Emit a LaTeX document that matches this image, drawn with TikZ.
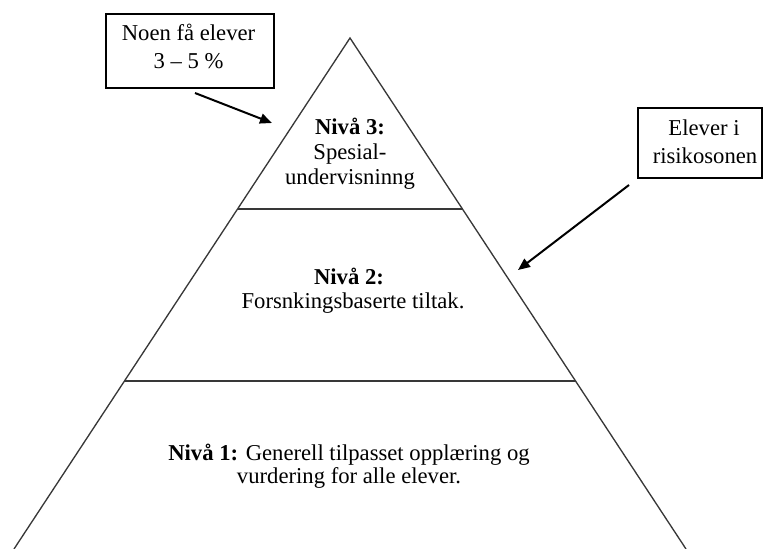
\documentclass[tikz,border=0pt]{standalone}
\usepackage{fontspec}
\setmainfont{Liberation Serif}
\usetikzlibrary{calc,arrows.meta}

\tikzset{
  edge/.style={draw=black!78, line width=1pt},
  calloutbox/.style={draw=black, line width=1.5pt, rectangle, inner sep=0pt},
  pointer/.style={draw=black, line width=1.5pt, -{Triangle[length=9pt,width=7.5pt]}},
  txt/.style={anchor=base, inner sep=0pt, font=\fontsize{17}{20}\selectfont}
}

\begin{document}
\begin{tikzpicture}[x=0.75pt,y=-0.75pt]
  \useasboundingbox (0,0) rectangle (763,549);

  % pyramid outline
  \coordinate (apex) at (350,38);
  \coordinate (bl) at (14,549);
  \coordinate (br) at (686,549);
  \draw[edge] (bl) -- (apex) -- (br);

  % level dividers
  \coordinate (d1l) at ($(apex)!0.33464!(bl)$);
  \coordinate (d1r) at ($(apex)!0.33464!(br)$);
  \coordinate (d2l) at ($(apex)!0.67123!(bl)$);
  \coordinate (d2r) at ($(apex)!0.67123!(br)$);
  \draw[edge] (d1l) -- (d1r);
  \draw[edge] (d2l) -- (d2r);

  % level 3
  \node[txt] (n3a) at (350,135) {\textbf{Nivå 3:}};
  \node[txt] (n3b) at (350,160) {Spesial-};
  \node[txt] (n3c) at (350,184) {undervisninng};

  % level 2
  \node[txt] (n2a) at (349,284) {\textbf{Nivå 2:}};
  \node[txt] (n2b) at (353,308) {Forsnkingsbaserte tiltak.};

  % level 1
  \node[txt] (n1a) at (349,460) {\textbf{Nivå 1:} Generell tilpasset opplæring og};
  \node[txt] (n1b) at (349,483) {vurdering for alle elever.};

  % callout: few pupils
  \node[calloutbox, minimum width=126pt, minimum height=56pt] (box1) at (189.5,51) {};
  \node[txt] (b1a) at (188.5,40.7) {Noen få elever};
  \node[txt] (b1b) at (188.5,68.3) {3 – 5 \%};

  % callout: pupils at risk
  \node[calloutbox, minimum width=93pt, minimum height=52.5pt] (box2) at (700,143) {};
  \node[txt] (b2a) at (704,136) {Elever i};
  \node[txt] (b2b) at (705,163) {risikosonen};

  % pointers
  \coordinate (p1s) at (195,93);
  \coordinate (p1e) at (272,123);
  \coordinate (p2s) at (629,185);
  \coordinate (p2e) at (518,270);
  \draw[pointer] (p1s) -- (p1e);
  \draw[pointer] (p2s) -- (p2e);
\end{tikzpicture}
\end{document}
